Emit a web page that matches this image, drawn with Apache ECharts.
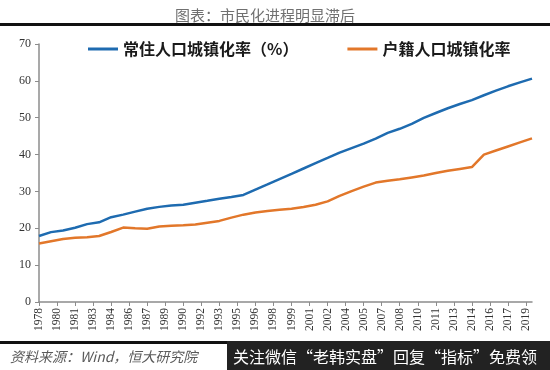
<!DOCTYPE html>
<html>
<head>
<meta charset="utf-8">
<script src="https://cdn.jsdelivr.net/npm/echarts@6/dist/echarts.min.js"></script>
<style>html,body{margin:0;padding:0;background:#fff}#c{width:550px;height:370px}</style>
</head>
<body>
<div id="c"></div>
<script>
var years = [1978,1979,1980,1981,1982,1983,1984,1985,1986,1987,1988,1989,1990,1991,1992,1993,1994,1995,1996,1997,1998,1999,2000,2001,2002,2003,2004,2005,2006,2007,2008,2009,2010,2011,2012,2013,2014,2015,2016,2017,2018,2019];
var residentRate = [17.92,18.96,19.39,20.16,21.13,21.62,23.01,23.71,24.52,25.32,25.81,26.21,26.41,26.94,27.46,27.99,28.51,29.04,30.48,31.91,33.35,34.78,36.22,37.66,39.09,40.53,41.76,42.99,44.34,45.89,46.99,48.34,49.95,51.27,52.57,53.73,54.77,56.10,57.35,58.52,59.58,60.60];
var hukouRate = [15.9,16.5,17.1,17.4,17.6,17.9,19.0,20.2,20.0,19.9,20.5,20.7,20.8,21.0,21.5,22.0,22.9,23.7,24.3,24.7,25.0,25.3,25.8,26.4,27.3,28.8,30.1,31.3,32.4,32.9,33.3,33.8,34.3,35.0,35.6,36.1,36.6,40.0,41.1,42.2,43.3,44.4];
var tickYears = [1978,1979.5,1981,1982.5,1984,1985.5,1987,1988.5,1990,1991.5,1993,1994.5,1996,1997.5,1999,2000.5,2002,2003.5,2005,2006.5,2008,2009.5,2011,2012.5,2014,2015.5,2017,2018.5];
var tickLabels = ['1978','1980','1981','1983','1984','1986','1987','1989','1990','1992','1993','1995','1996','1998','1999','2001','2002','2004','2005','2007','2008','2010','2011','2013','2014','2016','2017','2019'];
var yTicks = [0,10,20,30,40,50,60,70];
var seriesNames = ['常住人口城镇化率（%）','户籍人口城镇化率'];
var titleText = '图表：市民化进程明显滞后';
var sourceText = '资料来源：Wind，恒大研究院';
var promoText = '关注微信“老韩实盘”回复“指标”免费领';

function pairs(vals){ return years.map(function(y,i){ return [y, vals[i]]; }); }

var chart = echarts.init(document.getElementById('c'), null, {renderer:'canvas'});
chart.setOption({
  backgroundColor:'#fff',
  animation:false,
  title:{
    text:titleText, left:260, top:3, textAlign:'center',
    textStyle:{fontFamily:'Noto Sans CJK SC', fontSize:15, fontWeight:'normal', color:'#707070'}
  },
  legend:{
    left:83, top:36, itemWidth:30, itemHeight:3, itemGap:49, icon:'rect',
    textStyle:{fontFamily:'Noto Sans CJK SC', fontSize:16, fontWeight:'bold', color:'#1a1a1a'},
    data:seriesNames
  },
  grid:{left:39, right:18, top:44, bottom:68},
  xAxis:{
    type:'value', min:years[0], max:years[years.length-1],
    splitLine:{show:false},
    axisLine:{show:true, lineStyle:{color:'#8c8c8c', width:1.5}},
    axisTick:{show:true, length:4, customValues:tickYears, lineStyle:{color:'#8c8c8c'}},
    axisLabel:{
      customValues:tickYears, rotate:90, margin:6,
      fontFamily:'Liberation Serif', fontSize:11.5, color:'#333',
      formatter:function(v){ var k = tickYears.indexOf(v); return k >= 0 ? tickLabels[k] : ''; }
    }
  },
  yAxis:{
    type:'value', min:yTicks[0], max:yTicks[yTicks.length-1], interval:10,
    splitLine:{show:false},
    axisLine:{show:true, lineStyle:{color:'#8c8c8c', width:1.5}},
    axisTick:{show:true, length:4, lineStyle:{color:'#8c8c8c'}},
    axisLabel:{margin:8, fontFamily:'Liberation Serif', fontSize:12, color:'#333'}
  },
  series:[
    {name:seriesNames[0], type:'line', data:pairs(residentRate), showSymbol:false, symbol:'none',
     lineStyle:{color:'#1e6bb0', width:2.5}, itemStyle:{color:'#1e6bb0'}},
    {name:seriesNames[1], type:'line', data:pairs(hukouRate), showSymbol:false, symbol:'none',
     lineStyle:{color:'#e2772a', width:2.5}, itemStyle:{color:'#e2772a'}}
  ],
  graphic:[
    {type:'rect', shape:{x:0, y:23, width:550, height:3}, style:{fill:'#111'}},
    {type:'rect', shape:{x:0, y:341, width:228, height:3}, style:{fill:'#111'}},
    {type:'rect', shape:{x:227, y:341, width:323, height:29}, style:{fill:'#222'}},
    {type:'text', x:10, y:357, style:{text:sourceText, fontFamily:'Noto Sans CJK SC', fontStyle:'italic', fontSize:14, fill:'#5a5a5a', verticalAlign:'middle'}},
    {type:'text', x:233, y:357, style:{text:promoText, fontFamily:'Noto Sans CJK SC', fontSize:16, fill:'#fff', verticalAlign:'middle'}}
  ]
});
</script>
</body>
</html>
